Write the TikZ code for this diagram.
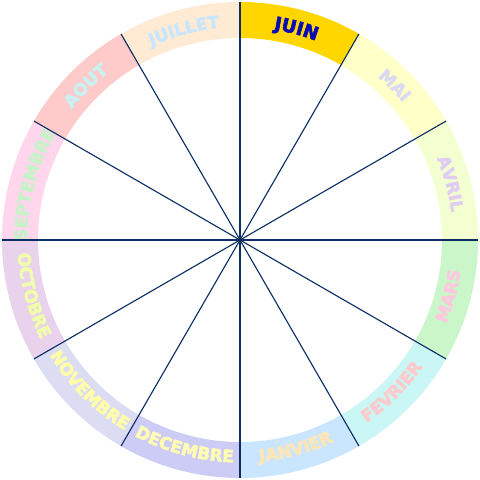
\documentclass[tikz,border=0pt]{standalone}
\usepackage{fontspec}
\usepackage{xcolor}
\usetikzlibrary{decorations.text}
\newfontfamily\monthfont{DejaVu Sans Bold}[FakeBold=3]
\definecolor{myline}{RGB}{10,45,100}
\definecolor{juin}{RGB}{255,214,0}
\definecolor{mai}{RGB}{255,255,200}
\definecolor{avril}{RGB}{243,255,208}
\definecolor{mars}{RGB}{202,246,202}
\definecolor{fevrier}{RGB}{202,246,246}
\definecolor{janvier}{RGB}{202,230,255}
\definecolor{decembre}{RGB}{204,204,246}
\definecolor{novembre}{RGB}{220,220,242}
\definecolor{octobre}{RGB}{232,210,236}
\definecolor{septembre}{RGB}{255,214,236}
\definecolor{aout}{RGB}{255,202,202}
\definecolor{juillet}{RGB}{255,234,212}
\definecolor{tjuin}{RGB}{10,10,180}
\definecolor{tmai}{RGB}{218,218,242}
\definecolor{tavril}{RGB}{225,205,242}
\definecolor{tmars}{RGB}{255,200,222}
\definecolor{tfevrier}{RGB}{255,202,202}
\definecolor{tjanvier}{RGB}{255,230,182}
\definecolor{tdecembre}{RGB}{255,252,180}
\definecolor{tnovembre}{RGB}{255,255,170}
\definecolor{toctobre}{RGB}{240,255,170}
\definecolor{tseptembre}{RGB}{198,242,200}
\definecolor{taout}{RGB}{200,242,242}
\definecolor{tjuillet}{RGB}{200,230,255}

\begin{document}
\begin{tikzpicture}
  \def\Rout{5.95}
  \def\Rin{5.05}
  \useasboundingbox (0,0) rectangle (12,12);
  \coordinate (c) at (6,6);
  %The coloured ring, one piece per month:
  \foreach \start/\col in {60/juin, 30/mai, 0/avril, -30/mars, -60/fevrier, -90/janvier, -120/decembre, -150/novembre, 180/octobre, 150/septembre, 120/aout, 90/juillet}{
    \fill[\col] ([shift={(\start:\Rout)}]c) arc (\start:\start+30:\Rout) -- ([shift={(\start+30:\Rin)}]c) arc (\start+30:\start:\Rin) -- cycle;
  }
  %Month names on the upper half, read clockwise:
  \foreach \start/\name/\col/\sz in {60/JUIN/tjuin/13, 30/MAI/tmai/12, 0/AVRIL/tavril/12, 150/SEPTEMBRE/tseptembre/12, 120/AOUT/taout/12, 90/JUILLET/tjuillet/12}{
    \path[decorate, decoration={text along path, text align=center, text color=\col,
      text={|\monthfont\fontsize{\sz}{\sz}\selectfont|\name}}]
      ([shift={(\start+30:5.33)}]c) arc (\start+30:\start:5.33);
  }
  %Month names on the lower half, read anticlockwise:
  \foreach \start/\name/\col in {-30/MARS/tmars, -60/FEVRIER/tfevrier, -90/JANVIER/tjanvier, -120/DECEMBRE/tdecembre, -150/NOVEMBRE/tnovembre, 180/OCTOBRE/toctobre}{
    \path[decorate, decoration={text along path, text align=center, text color=\col,
      text={|\monthfont\fontsize{12}{12}\selectfont|\name}}]
      ([shift={(\start:5.56)}]c) arc (\start:\start+30:5.56);
  }
  %The twelve spokes:
  \foreach \i [evaluate={\ang=\i*30;}] in {0,...,11}{
    \draw[myline, line width=0.8pt] (c) -- ([shift={(\ang:\Rout)}]c);
  }
\end{tikzpicture}
\end{document}
